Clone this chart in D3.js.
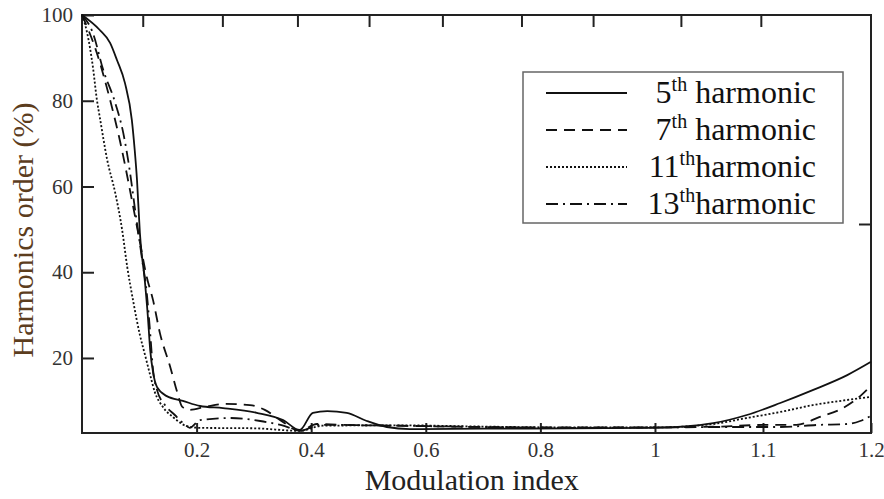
<!DOCTYPE html>
<html>
<head>
<meta charset="utf-8">
<script src="https://cdn.jsdelivr.net/npm/d3@7"></script>
</head>
<body style="margin:0">
<div id="chart"></div>
<script>
// values: [modulation index, harmonic %]
const h5 = [[0,100],[0.031,96.5],[0.049,93.5],[0.061,89.5],[0.075,84.1],[0.087,75.5],[0.092,68.5],
  [0.096,61.5],[0.101,49.2],[0.110,37.5],[0.115,29.6],[0.119,21.9],[0.124,16.7],[0.131,13.2],
  [0.148,11.1],[0.176,10.0],[0.206,8.8],[0.246,8.3],[0.305,7.2],[0.351,5.5],[0.380,3.2],
  [0.403,7.2],[0.428,7.6],[0.462,7.2],[0.497,5.3],[0.532,3.9],[0.572,3.4],[0.7,3.5],[0.85,3.6],
  [1.0,3.7],[1.054,4.8],[1.085,6.7],[1.116,9.5],[1.146,12.5],[1.178,16.0],[1.2,19.1]];
const h7 = [[0,100],[0.026,91.1],[0.049,80.2],[0.066,70.8],[0.087,56.9],[0.098,49.2],[0.113,38.9],
  [0.124,33.5],[0.136,25.8],[0.154,17.9],[0.166,12.1],[0.175,8.6],[0.188,7.9],[0.215,8.6],
  [0.25,9.3],[0.293,9.0],[0.319,7.9],[0.346,5.5],[0.380,3.0],[0.41,4.6],[0.45,4.4],[0.55,4.2],
  [0.7,3.9],[0.85,3.8],[1.0,3.8],[1.06,4.0],[1.104,4.4],[1.131,4.4],[1.152,6.2],[1.174,8.3],
  [1.19,11.1],[1.2,13.5]];
const h11 = [[0,100],[0.009,95.8],[0.019,87.9],[0.026,80.2],[0.031,76.2],[0.044,66.2],[0.058,58.5],
  [0.070,49.9],[0.079,41.2],[0.089,33.5],[0.101,25.4],[0.110,20.7],[0.119,16.0],[0.127,12.1],
  [0.141,8.6],[0.159,6.2],[0.183,4.1],[0.206,3.7],[0.3,3.6],[0.380,3.0],[0.42,4.2],[0.55,4.3],
  [0.7,4.0],[0.85,3.8],[1.0,3.8],[1.054,4.6],[1.085,6.0],[1.116,7.4],[1.146,9.0],[1.178,10.2],
  [1.2,10.9]];
const h13 = [[0,100],[0.019,95.8],[0.037,87.2],[0.058,79.5],[0.072,72.5],[0.084,63.1],[0.092,55.2],
  [0.105,42.9],[0.113,35.2],[0.119,25.8],[0.124,17.2],[0.131,12.5],[0.145,9.0],[0.162,6.7],
  [0.180,4.4],[0.188,3.7],[0.206,5.5],[0.258,6.0],[0.311,5.3],[0.354,4.1],[0.380,3.0],[0.415,4.4],
  [0.55,4.2],[0.7,3.9],[0.85,3.7],[1.0,3.8],[1.06,3.9],[1.116,3.9],[1.152,4.4],[1.178,4.6],
  [1.19,5.3],[1.2,6.5]];

const series = [
  { name: "5", data: h5, dash: null },
  { name: "7", data: h7, dash: "11,7" },
  { name: "11", data: h11, dash: "2,2" },
  { name: "13", data: h13, dash: "12,5,2,5" }
];

const xTicks = [0.2, 0.4, 0.6, 0.8, 1, 1.1, 1.2];
const yTicks = [20, 40, 60, 80, 100];
const topTicks = [0.106, 0.245, 0.376, 0.501, 0.629, 0.767, 0.892, 1.024, 1.098];

const FONT = "'Liberation Serif'";
const W = 884, H = 499;
const margin = { top: 15, right: 13, bottom: 66, left: 82 };
const width = W - margin.left - margin.right;
const height = H - margin.top - margin.bottom;

const svg = d3.select("#chart").append("svg").attr("width", W).attr("height", H);
const g = svg.append("g").attr("transform", `translate(${margin.left},${margin.top})`);

// the printed x axis is not uniform past 1, so the scale is piecewise
const x = d3.scaleLinear().domain([0, 1, 1.2]).range([0, width * 0.7262, width]);
const y = d3.scaleLinear().domain([2.5, 100]).range([height, 0]);

function styleAxis(sel) {
  sel.select(".domain").remove();
  sel.selectAll(".tick line").attr("stroke", "#222").attr("stroke-width", 2);
  sel.selectAll(".tick text").attr("fill", "#333")
    .attr("font-family", FONT).attr("font-size", 21);
}

g.append("g").attr("transform", `translate(0,${height})`)
  .call(d3.axisBottom(x).tickValues(xTicks).tickSize(-10).tickPadding(9).tickFormat(d3.format("")))
  .call(styleAxis);
g.append("g")
  .call(d3.axisTop(x).tickValues(topTicks).tickSize(-12).tickFormat(""))
  .call(styleAxis);
g.append("g")
  .call(d3.axisLeft(y).tickValues(yTicks).tickSize(-12).tickPadding(9))
  .call(styleAxis);
g.append("g").attr("transform", `translate(${width},0)`)
  .call(d3.axisRight(y).tickValues([(y.domain()[0] + y.domain()[1]) / 2]).tickSize(-12).tickFormat(""))
  .call(styleAxis);

g.append("rect").attr("width", width).attr("height", height)
  .attr("fill", "none").attr("stroke", "#222").attr("stroke-width", 2);

const line = d3.line().x(d => x(d[0])).y(d => y(d[1])).curve(d3.curveMonotoneX);

g.selectAll(".curve").data(series).enter().append("path")
  .attr("class", "curve")
  .attr("d", d => line(d.data))
  .attr("fill", "none")
  .attr("stroke", "#111")
  .attr("stroke-width", 1.8)
  .attr("stroke-dasharray", d => d.dash);

// axis titles
svg.append("text")
  .attr("x", margin.left + width * 0.494).attr("y", 490)
  .attr("text-anchor", "middle").attr("fill", "#222")
  .attr("font-family", FONT).attr("font-size", 30)
  .text("Modulation index");
svg.append("text")
  .attr("transform", "translate(33,230) rotate(-90)")
  .attr("text-anchor", "middle").attr("fill", "#5c3d1e")
  .attr("font-family", FONT).attr("font-size", 30)
  .text("Harmonics order (%)");

// legend
const legend = svg.append("g");
legend.append("rect").attr("x", 523).attr("y", 72).attr("width", 320).attr("height", 151)
  .attr("fill", "#fff").attr("stroke", "#666").attr("stroke-width", 1.5);

const rowY = [93, 130, 167, 204];
series.forEach((s, i) => {
  legend.append("line").attr("x1", 546).attr("x2", 627)
    .attr("y1", rowY[i]).attr("y2", rowY[i])
    .attr("stroke", "#111").attr("stroke-width", 1.8)
    .attr("stroke-dasharray", s.dash);
  const t = legend.append("text").attr("x", 816).attr("y", rowY[i] + 10)
    .attr("text-anchor", "end").attr("fill", "#111")
    .attr("font-family", FONT).attr("font-size", 32);
  t.append("tspan").text(s.name);
  t.append("tspan").attr("dy", -12).attr("font-size", 20).text("th");
  t.append("tspan").attr("dy", 12).text(i < 2 ? " harmonic" : "harmonic");
});
</script>
</body>
</html>
